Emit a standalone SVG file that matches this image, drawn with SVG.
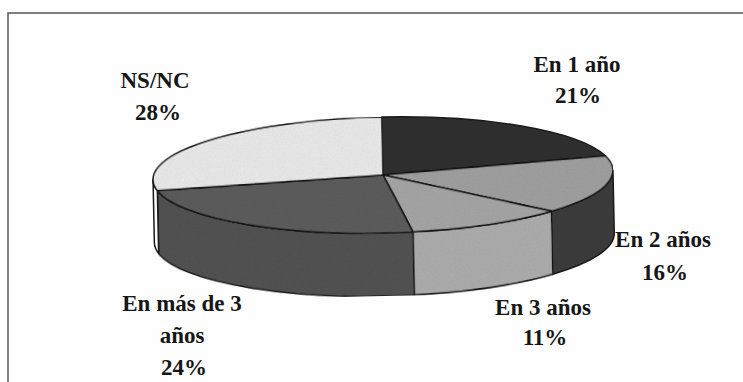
<svg xmlns="http://www.w3.org/2000/svg" width="743" height="382" viewBox="0 0 743 382">
  <style>
    .lbl { font-family: "Liberation Serif", "Times New Roman", serif; font-weight: bold; font-size: 23px; fill: #161616; text-anchor: middle; }
    .edge { stroke: #1a1a1a; stroke-width: 1.5; stroke-linejoin: round; }
    .frame { stroke: #555; stroke-width: 1.5; fill: none; }
  </style>
  <defs>
    <filter id="grain" x="0" y="0" width="100%" height="100%">
      <feTurbulence type="fractalNoise" baseFrequency="0.9" numOctaves="2" seed="3" result="n"/>
      <feColorMatrix in="n" type="matrix" values="0 0 0 0 0  0 0 0 0 0  0 0 0 0 0  0 0 0 0.18 0" result="dots"/>
      <feComposite in="dots" in2="SourceGraphic" operator="in" result="d2"/>
      <feMerge><feMergeNode in="SourceGraphic"/><feMergeNode in="d2"/></feMerge>
    </filter>
  </defs>
  <rect x="0" y="0" width="743" height="382" fill="#fefefe"/>
  <path class="frame" d="M8,382 L8,13 L743,13"/>

  <g transform="rotate(-1.2 383 175)">
    <g id="slice-1-ano">
      <path class="edge" fill="#2e2e2e" d="M383,175 L383,117 A230,58 0 0 1 605.77,160.58 Z"/>
    </g>
    <g id="slice-2-anos">
      <path class="edge" fill="#3a3a3a" d="M613,175 A230,58 0 0 1 550.66,214.70 L550.66,277.70 A230,58 0 0 0 613,238 Z"/>
      <path class="edge" fill="#a3a3a3" filter="url(#grain)" d="M383,175 L605.77,160.58 A230,58 0 0 1 550.66,214.70 Z"/>
    </g>
    <g id="slice-3-anos">
      <path class="edge" fill="#b0b0b0" filter="url(#grain)" d="M550.66,214.70 A230,58 0 0 1 411.83,232.54 L411.83,295.54 A230,58 0 0 0 550.66,277.70 Z"/>
      <path class="edge" fill="#a8a8a8" filter="url(#grain)" d="M383,175 L550.66,214.70 A230,58 0 0 1 411.83,232.54 Z"/>
    </g>
    <g id="slice-mas-de-3">
      <path class="edge" fill="#555555" filter="url(#grain)" d="M411.83,232.54 A230,58 0 0 1 157.07,185.87 L157.07,248.87 A230,58 0 0 0 411.83,295.54 Z"/>
      <path class="edge" fill="#5e5e5e" filter="url(#grain)" d="M383,175 L411.83,232.54 A230,58 0 0 1 157.07,185.87 Z"/>
    </g>
    <g id="slice-nsnc">
      <path class="edge" fill="#fafafa" d="M157.07,185.87 A230,58 0 0 1 153,175 L153,238 A230,58 0 0 0 157.07,248.87 Z"/>
      <path class="edge" fill="#eeeeee" filter="url(#grain)" d="M383,175 L157.07,185.87 A230,58 0 0 1 383,117 Z"/>
    </g>
  </g>

  <g id="label-nsnc">
    <text class="lbl" x="155" y="88">NS/NC</text>
    <text class="lbl" x="158" y="120">28%</text>
  </g>
  <g id="label-1-ano">
    <text class="lbl" x="577" y="72">En 1 año</text>
    <text class="lbl" x="578" y="103">21%</text>
  </g>
  <g id="label-2-anos">
    <text class="lbl" x="663" y="247">En 2 años</text>
    <text class="lbl" x="665" y="280">16%</text>
  </g>
  <g id="label-3-anos">
    <text class="lbl" x="543" y="315">En 3 años</text>
    <text class="lbl" x="545" y="345">11%</text>
  </g>
  <g id="label-mas-de-3">
    <text class="lbl" x="182" y="311">En más de 3</text>
    <text class="lbl" x="182" y="343">años</text>
    <text class="lbl" x="184" y="375">24%</text>
  </g>
</svg>
